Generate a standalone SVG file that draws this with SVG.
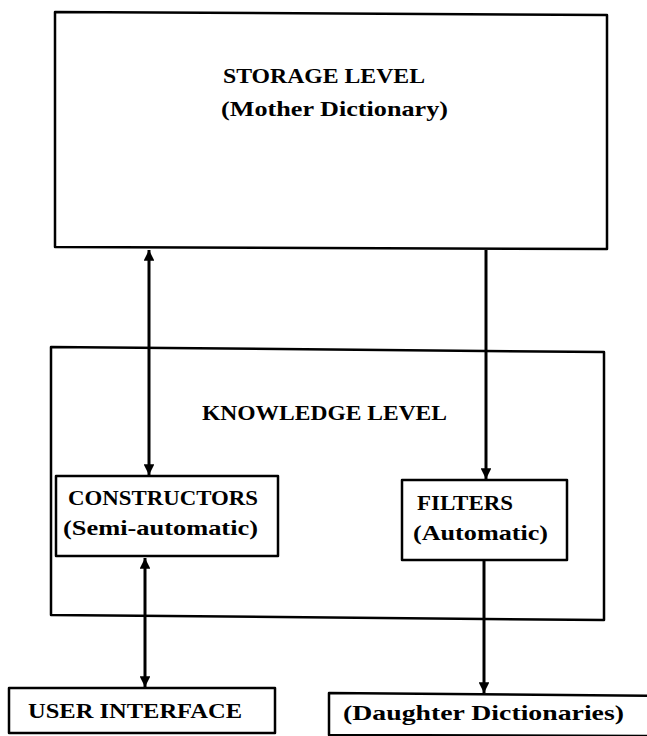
<svg xmlns="http://www.w3.org/2000/svg" width="647" height="736" viewBox="0 0 647 736">
<style>
.box{fill:none;stroke:#000;stroke-width:2.5;stroke-linejoin:round}
.lbl{font-family:"Liberation Serif","Times New Roman",serif;font-weight:bold;font-size:21px;fill:#000}
.conn{stroke:#000;stroke-width:3;fill:none}
</style>
<defs>
<marker id="ah" viewBox="0 0 10 10" refX="10" refY="5" markerWidth="3.6" markerHeight="3.6" orient="auto-start-reverse" markerUnits="strokeWidth">
<path d="M0,0 L10,5 L0,10 z" fill="#000"/>
</marker>
</defs>
<rect width="647" height="736" fill="#fff"/>
<g id="storage">
<path class="box" d="M55,12 L607,15 L607,249 L55,247 Z"/>
<text class="lbl" x="223" y="83" textLength="202" lengthAdjust="spacingAndGlyphs">STORAGE LEVEL</text>
<text class="lbl" x="221" y="116" textLength="227" lengthAdjust="spacingAndGlyphs">(Mother Dictionary)</text>
</g>
<g id="knowledge">
<path class="box" d="M51,347 L604,352 L604,620 L51,615 Z"/>
<text class="lbl" x="202" y="420" textLength="245" lengthAdjust="spacingAndGlyphs">KNOWLEDGE LEVEL</text>
</g>
<g id="constructors">
<rect class="box" x="56" y="476" width="222" height="80"/>
<text class="lbl" x="68" y="505" textLength="190" lengthAdjust="spacingAndGlyphs">CONSTRUCTORS</text>
<text class="lbl" x="63" y="535" textLength="195" lengthAdjust="spacingAndGlyphs">(Semi-automatic)</text>
</g>
<g id="filters">
<rect class="box" x="402" y="480" width="165" height="80"/>
<text class="lbl" x="417" y="510" textLength="96" lengthAdjust="spacingAndGlyphs">FILTERS</text>
<text class="lbl" x="413" y="540" textLength="135" lengthAdjust="spacingAndGlyphs">(Automatic)</text>
</g>
<g id="user-interface">
<rect class="box" x="9" y="688" width="266" height="45"/>
<text class="lbl" x="28" y="718" textLength="214" lengthAdjust="spacingAndGlyphs">USER INTERFACE</text>
</g>
<g id="daughter">
<path class="box" d="M329,693 L670,696 L670,736 L329,735 Z"/>
<text class="lbl" x="343" y="720" textLength="281" lengthAdjust="spacingAndGlyphs">(Daughter Dictionaries)</text>
</g>
<g id="connectors">
<line class="conn" x1="149" y1="250" x2="149" y2="475" marker-start="url(#ah)" marker-end="url(#ah)"/>
<line class="conn" x1="486" y1="250" x2="486" y2="479" marker-end="url(#ah)"/>
<line class="conn" x1="145" y1="558" x2="145" y2="687" marker-start="url(#ah)" marker-end="url(#ah)"/>
<line class="conn" x1="484" y1="561" x2="484" y2="693" marker-end="url(#ah)"/>
</g>
</svg>
